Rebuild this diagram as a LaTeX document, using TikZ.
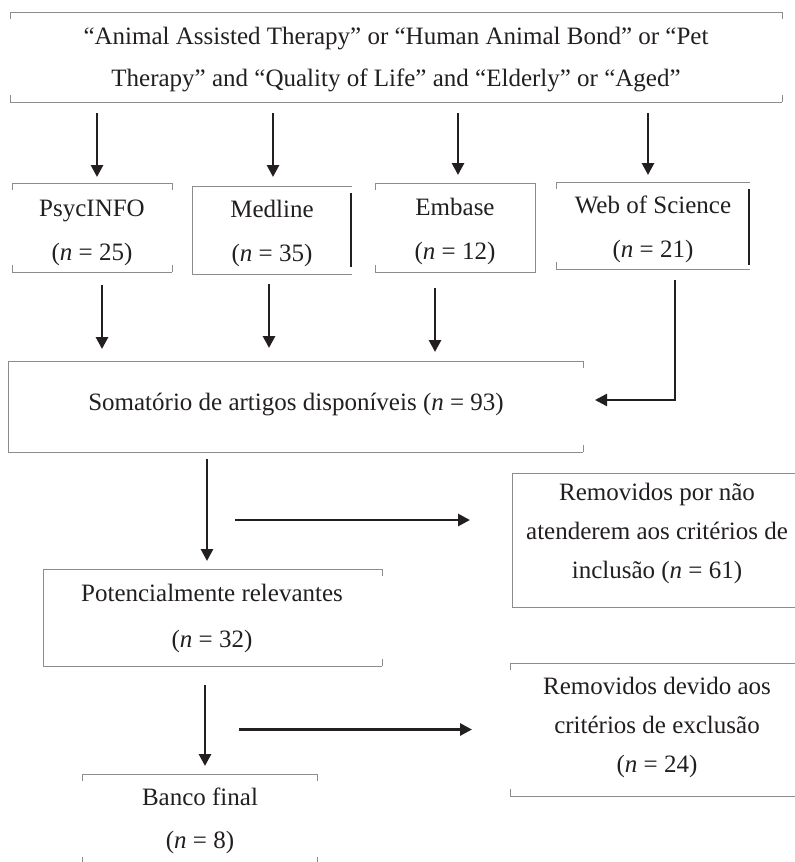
\documentclass[tikz,border=0pt]{standalone}
\usepackage{fontspec}
\setmainfont{Liberation Serif}
\usetikzlibrary{arrows.meta,calc}
\definecolor{ink}{HTML}{231F20}
\definecolor{edge}{HTML}{8C8C8C}
\begin{document}
\begin{tikzpicture}[x=1pt,y=-1pt,
  box/.style={rectangle,inner sep=0pt,outer sep=0pt},
  bl/.style={draw=edge,line width=0.9pt},
  dk/.style={draw=ink,line width=1.6pt},
  arr/.style={draw=ink,line width=2.8pt,-{Triangle[width=12pt,length=12pt]}},
  arrthin/.style={draw=ink,line width=2.4pt,-{Triangle[width=12pt,length=12pt]}},
  txt/.style={inner sep=0pt,anchor=base,text=ink,font=\fontsize{25}{30}\selectfont},
]
\useasboundingbox[fill=white] (0,0) rectangle (795,862);

% ---------- boxes ----------
\node[box,minimum width=772pt,minimum height=90pt] (top) at (396,57) {};
\node[box,minimum width=160pt,minimum height=89pt] (ps) at (92,227.5) {};
\node[box,minimum width=160pt,minimum height=88pt] (md) at (272,230) {};
\node[box,minimum width=160pt,minimum height=89pt] (em) at (455,227.5) {};
\node[box,minimum width=194pt,minimum height=87pt] (wos) at (653,225.5) {};
\node[box,minimum width=575pt,minimum height=91pt] (som) at (295.5,406.5) {};
\node[box,minimum width=339pt,minimum height=97pt] (pot) at (212.5,617.5) {};
\node[box,minimum width=283pt,minimum height=134pt] (rem1) at (653.5,540) {};
\node[box,minimum width=285pt,minimum height=133pt] (rem2) at (652.5,729.5) {};
\node[box,minimum width=235pt,minimum height=88pt] (banco) at (199.5,818) {};

% ---------- borders ----------
\draw[bl] (top.north west) -- (top.north east);
\draw[bl] (top.south west) -- (top.south east);
\draw[bl] (top.north west) -- ++(0,7) (top.north east) -- ++(0,7)
          (top.south west) -- ++(0,-7) (top.south east) -- ++(0,-7);
\draw[bl] (ps.north west) -- (ps.north east);
\draw[bl] (ps.south west) -- (ps.south east);
\draw[bl] (ps.north west) -- ++(0,7) (ps.north east) -- ++(0,7)
          (ps.south west) -- ++(0,-7) (ps.south east) -- ++(0,-7);
\draw[bl] (md.north east) -- (md.north west) -- (md.south west) -- (md.south east);
\draw[dk] ($(md.north east)+(-1,7)$) -- ($(md.south east)+(-1,-7)$);
\draw[bl] (em.north west) -- (em.north east) -- (em.south east) -- (em.south west);
\draw[bl] (em.north west) -- ++(0,7) (em.south west) -- ++(0,-7);
\draw[bl] (wos.north west) -- (wos.north east);
\draw[bl] (wos.south west) -- (wos.south east);
\draw[bl] (wos.north west) -- ++(0,7) (wos.south west) -- ++(0,-7);
\draw[dk] ($(wos.north east)+(-1,7)$) -- ($(wos.south east)+(-1,-4)$);
\draw[bl] (som.north east) -- (som.north west) -- (som.south west) -- (som.south east);
\draw[bl] (som.north east) -- ++(0,7) (som.south east) -- ++(0,-7);
\draw[bl] (pot.north east) -- (pot.north west) -- (pot.south west) -- (pot.south east);
\draw[bl] (pot.north east) -- ++(0,7) (pot.south east) -- ++(0,-7);
\draw[bl] (rem1.north east) -- (rem1.north west) -- (rem1.south west) -- (rem1.south east);
\draw[bl] (rem2.north west) -- (rem2.north east);
\draw[bl] (rem2.south west) -- (rem2.south east);
\draw[bl] (rem2.north west) -- ++(0,7) (rem2.south west) -- ++(0,-7);
\draw[bl] (banco.north west) -- (banco.north east);
\draw[bl] (banco.north west) -- ++(0,7) (banco.north east) -- ++(0,7)
          (banco.south west) -- ++(0,-5) (banco.south east) -- ++(0,-5);

% ---------- texts ----------
\node[txt] (top1) at (396,44) {“Animal Assisted Therapy” or “Human Animal Bond” or “Pet};
\node[txt] (top2) at (396,86) {Therapy” and “Quality of Life” and “Elderly” or “Aged”};
\node[txt] (ps1) at (92,216) {PsycINFO};
\node[txt] (ps2) at (92,260) {(\textit{n} = 25)};
\node[txt] (md1) at (272,217) {Medline};
\node[txt] (md2) at (272,261) {(\textit{n} = 35)};
\node[txt] (em1) at (455,215) {Embase};
\node[txt] (em2) at (455,259) {(\textit{n} = 12)};
\node[txt] (wos1) at (653,213) {Web of Science};
\node[txt] (wos2) at (653,257) {(\textit{n} = 21)};
\node[txt] (som1) at (296,410) {Somatório de artigos disponíveis (\textit{n} = 93)};
\node[txt] (pot1) at (212,601) {Potencialmente relevantes};
\node[txt] (pot2) at (212,647) {(\textit{n} = 32)};
\node[txt] (r11) at (657,500) {Removidos por não};
\node[txt] (r12) at (657,539) {atenderem aos critérios de};
\node[txt] (r13) at (657,578) {inclusão (\textit{n} = 61)};
\node[txt] (r21) at (657,694) {Removidos devido aos};
\node[txt] (r22) at (657,733) {critérios de exclusão};
\node[txt] (r23) at (657,772) {(\textit{n} = 24)};
\node[txt] (b1) at (200,805) {Banco final};
\node[txt] (b2) at (200,848) {(\textit{n} = 8)};

% ---------- connectors ----------
\draw[arr] ($(top.south -| ps.north)+(5,11)$) -- ($(ps.north)+(5,-6)$);
\draw[arr] ($(top.south -| md.north)+(1,11)$) -- ($(md.north)+(1,-9)$);
\draw[arr] ($(top.south -| em.north)+(3,11)$) -- ($(em.north)+(3,-8)$);
\draw[arr] ($(top.south -| wos.north)+(-5,11)$) -- ($(wos.north)+(-5,-7)$);

\draw[arr] ($(ps.south)+(10,13)$) -- ($(som.north -| ps.south)+(10,-12)$);
\draw[arr] ($(md.south)+(-3,10)$) -- ($(som.north -| md.south)+(-3,-13)$);
\draw[arr] ($(em.south)+(-20,16)$) -- ($(som.north -| em.south)+(-20,-9)$);
\draw[arrthin] ($(wos.south)+(22,11)$) |- ($(som.east)+(12,-6.5)$);

\draw[arr] ($(som.south -| pot.north)+(-5.5,7)$) -- ($(pot.north)+(-5.5,-8)$);
\draw[arr] ($(rem1.west)+(-277,-20)$) -- ($(rem1.west)+(-42,-20)$);
\draw[arr] ($(pot.south -| banco.north)+(5.5,19)$) -- ($(banco.north)+(5.5,-8)$);
\draw[arr] ($(rem2.west)+(-271,0)$) -- ($(rem2.west)+(-38,0)$);
\end{tikzpicture}
\end{document}
